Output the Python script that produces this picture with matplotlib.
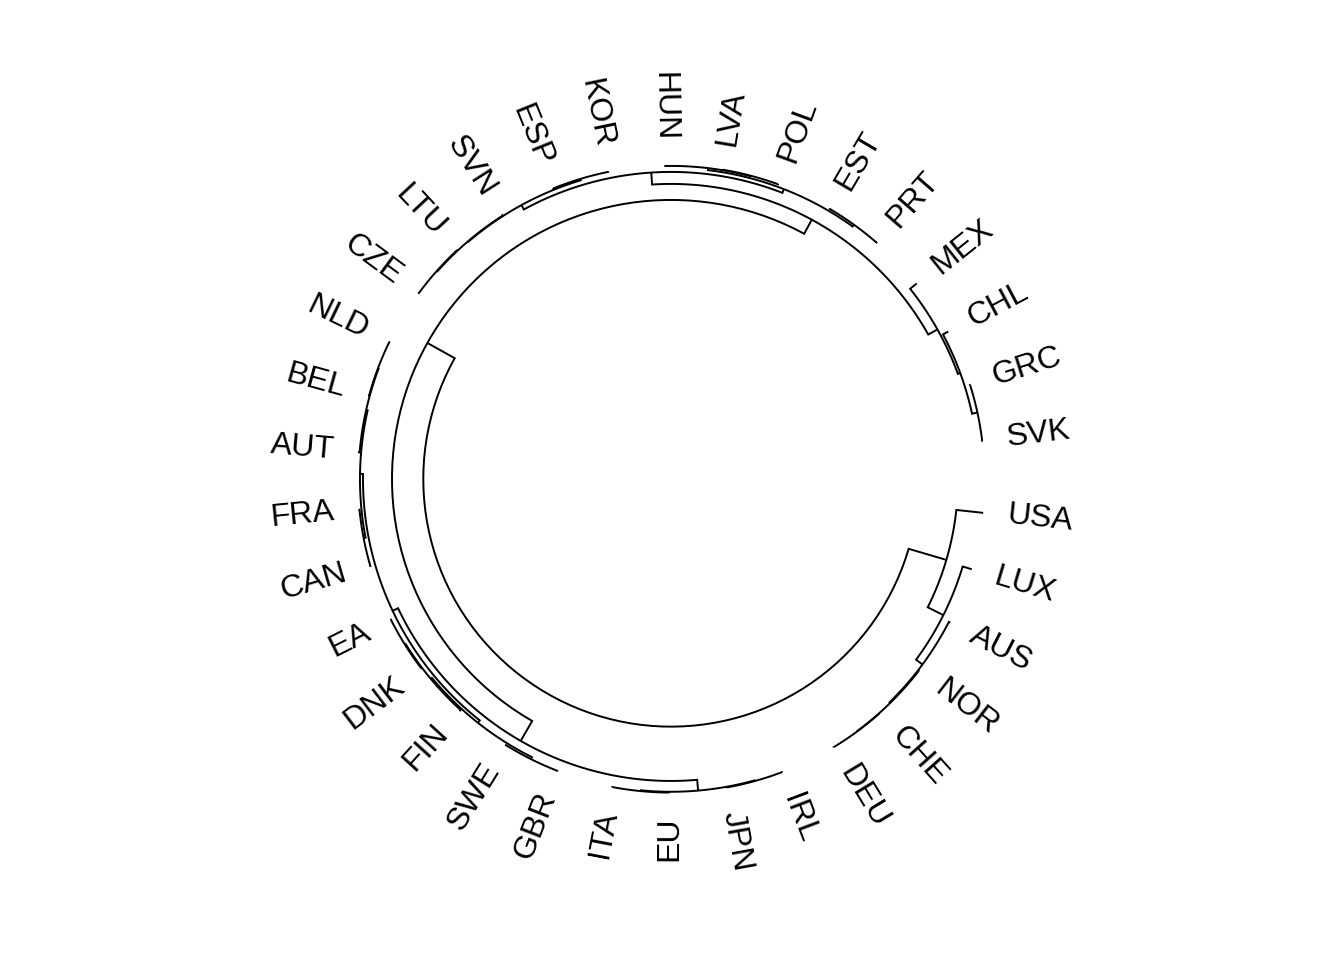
import numpy as np
import matplotlib.pyplot as plt

plt.rcParams['font.family'] = ['Liberation Sans', 'DejaVu Sans']

# Ordem das folhas ao redor do círculo (sentido horário a partir da direita)
paises = ["USA", "LUX", "AUS", "NOR", "CHE", "DEU", "IRL", "JPN", "EU", "ITA",
          "GBR", "SWE", "FIN", "DNK", "EA", "CAN", "FRA", "AUT", "BEL", "NLD",
          "CZE", "LTU", "SVN", "ESP", "KOR", "HUN", "LVA", "POL", "EST", "PRT",
          "MEX", "CHL", "GRC", "SVK"]

# Fusões do agrupamento: filho esquerdo, filho direito (país ou índice de fusão anterior)
esquerda = ["CHE", "NOR", "AUS", "LUX", "USA", "IRL", "EU", 5, "GBR", "DNK", "FIN", 8,
            "CAN", "BEL", "AUT", 12, 11, 7, "CZE", 18, "ESP", 19, "LVA", "HUN", "EST",
            23, 21, "GRC", "CHL", "MEX", 26, 17, 4]
direita = ["DEU", 0, 1, 2, 3, "JPN", "ITA", 6, "SWE", "EA", 9, 10,
           "FRA", "NLD", 13, 14, 15, 16, "LTU", "SVN", "KOR", 20, "POL", 22, "PRT",
           24, 25, "SVK", 27, 28, 29, 30, 31]
# Altura de cada fusão
alturas = [0.03, 0.06, 0.15, 0.95, 2.7, 0.05, 0.04, 0.12, 0.08, 0.06, 0.15, 0.3,
           0.1, 0.08, 0.15, 0.3, 0.6, 1.2, 0.08, 0.15, 0.06, 0.2, 0.05, 0.1, 0.08,
           0.3, 0.7, 0.05, 0.6, 0.85, 1.9, 3.5, 6.63]

PASSO = 10.51        # graus entre folhas vizinhas
INICIO = -6.2        # ângulo da primeira folha (graus)
R_CENTRO = 31.4      # altura que corresponde ao centro do círculo
R_ROTULO = -2.4      # posição radial dos rótulos

# Posição (índice) de cada fusão: média das posições dos filhos
posicao = []


def pos_alt(no):
    if isinstance(no, str):
        return paises.index(no), 0.0
    return posicao[no], alturas[no]


for esq, dirt in zip(esquerda, direita):
    posicao.append((pos_alt(esq)[0] + pos_alt(dirt)[0]) / 2)

figura = plt.figure(figsize=(13.44, 9.6), dpi=100)
ax = figura.add_axes([0.2656, 0.1740, 0.4673, 0.6542], polar=True)
ax.set_theta_offset(np.deg2rad(INICIO))
ax.set_theta_direction(-1)
ax.set_ylim(R_CENTRO, 0)
ax.set_axis_off()

# Desenha cada fusão como um "colchete" em coordenadas polares
for k, (esq, dirt) in enumerate(zip(esquerda, direita)):
    x1, h1 = pos_alt(esq)
    x2, h2 = pos_alt(dirt)
    h = alturas[k]
    arco = np.linspace(x1, x2, 80)
    xs = np.concatenate([[x1], arco, [x2]])
    hs = np.concatenate([[h1], np.full(arco.size, h), [h2]])
    ax.plot(np.deg2rad(xs * PASSO), hs, color='black', lw=1.4,
            solid_joinstyle='miter', solid_capstyle='butt', clip_on=False)

# Rótulos radiais
for i, nome in enumerate(paises):
    ang = (INICIO - i * PASSO) % 360
    if 90 < ang < 270:
        rot, ha = ang - 180, 'right'
    else:
        rot, ha = (ang if ang <= 90 else ang - 360), 'left'
    ax.text(np.deg2rad(i * PASSO), R_ROTULO, nome, rotation=rot,
            rotation_mode='anchor', ha=ha, va='center', fontsize=23,
            clip_on=False)

figura.savefig('out.png', dpi=100, facecolor='white')
